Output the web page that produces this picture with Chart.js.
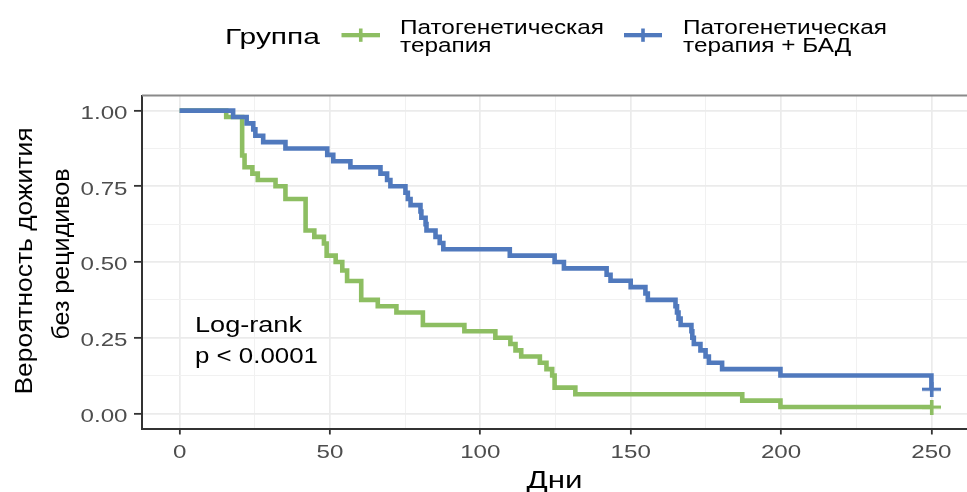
<!DOCTYPE html>
<html lang="ru">
<head>
<meta charset="utf-8">
<title>Кривые Каплана–Мейера</title>
<script src="https://cdn.jsdelivr.net/npm/chart.js@4.4.1/dist/chart.umd.min.js"></script>
<style>
  html, body { margin: 0; padding: 0; background: #ffffff; overflow: hidden; }
  canvas { display: block; }
</style>
</head>
<body>
<canvas id="km" width="969" height="492"></canvas>
<script>
// ---- data -------------------------------------------------------------
const groupTitle = 'Группа';
const groupNames = [
  ['Патогенетическая', 'терапия'],
  ['Патогенетическая', 'терапия + БАД']
];

// Патогенетическая терапия
const greenDays = [0, 15.5, 20.8, 21.6, 24.2, 26.0, 31.9, 35.2, 41.9, 44.8,
  48.0, 48.9, 51.9, 54.1, 55.7, 60.4, 65.9, 72.1, 80.9, 94.7,
  105.0, 110.0, 111.7, 113.6, 119.8, 122.0, 123.9, 124.7, 131.6, 187.1,
  199.8, 250];
const greenSurv = [1, 0.979, 0.852, 0.813, 0.792, 0.771, 0.750, 0.708, 0.604, 0.583,
  0.561, 0.521, 0.500, 0.472, 0.437, 0.375, 0.354, 0.333, 0.292, 0.271,
  0.250, 0.229, 0.208, 0.188, 0.167, 0.146, 0.125, 0.085, 0.063, 0.042,
  0.021, 0.021];

// Патогенетическая терапия + БАД
const blueDays = [0, 17.8, 22.3, 24.5, 25.2, 27.8, 35.2, 49.1, 51.1, 56.8,
  66.8, 69.0, 70.1, 75.1, 75.9, 76.8, 80.1, 80.4, 81.8, 82.1,
  85.1, 86.5, 87.7, 109.8, 124.7, 127.8, 142.0, 143.3, 150.0, 154.9,
  155.7, 164.9, 165.4, 165.9, 166.6, 170.2, 170.5, 171.0, 173.2, 174.9,
  176.0, 180.4, 199.8, 250];
const blueSurv = [1, 0.979, 0.958, 0.938, 0.917, 0.896, 0.875, 0.854, 0.833, 0.813,
  0.792, 0.771, 0.750, 0.729, 0.708, 0.688, 0.667, 0.646, 0.625, 0.604,
  0.583, 0.563, 0.542, 0.521, 0.500, 0.479, 0.458, 0.438, 0.417, 0.396,
  0.375, 0.354, 0.333, 0.313, 0.292, 0.271, 0.250, 0.229, 0.208, 0.188,
  0.167, 0.146, 0.125, 0.080];

const dayTicks = [0, 50, 100, 150, 200, 250];
const dayTickLabels = ['0', '50', '100', '150', '200', '250'];
const dayMinor = [25, 75, 125, 175, 225];
const survTicks = [0, 0.25, 0.5, 0.75, 1];
const survTickLabels = ['0.00', '0.25', '0.50', '0.75', '1.00'];
const survMinor = [0.125, 0.375, 0.625, 0.875];

const xTitle = 'Дни';
const yTitle = ['Вероятность дожития', 'без рецидивов'];
const testText = ['Log-rank', 'p < 0.0001'];

// ---- styling ----------------------------------------------------------
const GREEN = '#8dbe62';
const BLUE = '#5079bd';
const FONT = '"Liberation Sans", Arial, sans-serif';
const TICK_GREY = '#4d4d4d';

// censor mark "+" used at the last observation of each curve
function censorMark(color) {
  const c = document.createElement('canvas');
  c.width = 19; c.height = 15;
  const g = c.getContext('2d');
  g.fillStyle = color;
  g.fillRect(0, 6, 19, 3.2);
  g.fillRect(8, 0, 3.6, 15);
  return c;
}
const plusGreen = censorMark(GREEN);
const plusBlue = censorMark(BLUE);

function toPoints(days, surv) {
  return days.map((d, i) => ({ x: d, y: surv[i] }));
}

const isMajorDay = v => dayTicks.includes(v);
const isMajorSurv = v => survTicks.some(t => Math.abs(t - v) < 1e-9);

// text with a horizontal stretch along the writing direction
function drawText(ctx, text, x, y, o) {
  ctx.save();
  ctx.translate(x, y);
  if (o.rotate) ctx.rotate(o.rotate);
  ctx.font = o.font;
  const w = ctx.measureText(text).width;
  const k = o.width ? o.width / w : (o.stretch || 1);
  ctx.scale(k, 1);
  ctx.fillStyle = o.color || '#000';
  ctx.textAlign = o.align || 'left';
  ctx.textBaseline = 'alphabetic';
  ctx.fillText(text, 0, 0);
  ctx.restore();
  return k;
}

const annotations = {
  id: 'annotations',
  afterDraw(chart) {
    const ctx = chart.ctx;
    const xs = chart.scales.x, ys = chart.scales.y;
    const area = chart.chartArea;

    // panel top edge
    ctx.save();
    ctx.strokeStyle = '#8a8a8a';
    ctx.lineWidth = 2;
    ctx.beginPath();
    ctx.moveTo(area.left, area.top);
    ctx.lineTo(area.right, area.top);
    ctx.stroke();
    ctx.restore();

    // tick labels
    const tickFont = '19px ' + FONT;
    dayTicks.forEach((v, i) => {
      drawText(ctx, dayTickLabels[i], xs.getPixelForValue(v), 457.5,
        { font: tickFont, stretch: 1.27, align: 'center', color: TICK_GREY });
    });
    survTicks.forEach((v, i) => {
      drawText(ctx, survTickLabels[i], 127.5, ys.getPixelForValue(v) + 8.2,
        { font: tickFont, stretch: 1.27, align: 'right', color: TICK_GREY });
    });

    // axis titles
    const titleFont = '22.5px ' + FONT;
    drawText(ctx, xTitle, (area.left + 967) / 2, 487.5,
      { font: '23.5px ' + FONT, width: 56, align: 'center' });
    const k = drawText(ctx, yTitle[0], 31.5, 261, { font: '23px ' + FONT, width: 267, align: 'center', rotate: -Math.PI / 2 });
    drawText(ctx, yTitle[1], 68.5, 254, { font: '23px ' + FONT, stretch: Math.max(k * 0.95, 1), align: 'center', rotate: -Math.PI / 2 });

    // legend
    drawText(ctx, groupTitle, 225, 43.5, { font: titleFont, width: 95 });
    const keys = [
      { color: GREEN, x0: 341.5, x1: 380, textX: 400, names: groupNames[0] },
      { color: BLUE, x0: 624, x1: 662, textX: 683, names: groupNames[1] }
    ];
    const labelFont = '19.3px ' + FONT;
    ctx.save();
    ctx.font = labelFont;
    const legendStretch = 204 / ctx.measureText(groupNames[0][0]).width;
    ctx.restore();
    keys.forEach(key => {
      ctx.save();
      ctx.fillStyle = key.color;
      ctx.fillRect(key.x0, 33, key.x1 - key.x0, 4.3);
      const cx = (key.x0 + key.x1) / 2;
      ctx.fillRect(cx - 1.8, 28.5, 3.6, 13.3);
      ctx.restore();
      drawText(ctx, key.names[0], key.textX, 33.5, { font: labelFont, stretch: legendStretch });
      drawText(ctx, key.names[1], key.textX, 52, { font: labelFont, stretch: legendStretch });
    });

    // log-rank result
    drawText(ctx, testText[0], 195, 332, { font: titleFont, width: 107 });
    drawText(ctx, testText[1], 195, 363, { font: titleFont, width: 123 });
  }
};

function lastOnly(size) {
  return c => (c.dataIndex === c.dataset.data.length - 1 ? size : 0);
}

new Chart(document.getElementById('km'), {
  type: 'line',
  data: {
    datasets: [
      {
        label: groupNames[1].join(' '),
        data: toPoints(blueDays, blueSurv),
        borderColor: BLUE,
        backgroundColor: BLUE,
        borderWidth: 4.6,
        stepped: true,
        fill: false,
        pointRadius: lastOnly(6),
        pointHoverRadius: 0,
        pointStyle: plusBlue,
        borderCapStyle: 'butt',
        borderJoinStyle: 'miter'
      },
      {
        label: groupNames[0].join(' '),
        data: toPoints(greenDays, greenSurv),
        borderColor: GREEN,
        backgroundColor: GREEN,
        borderWidth: 4.6,
        stepped: true,
        fill: false,
        pointRadius: lastOnly(6),
        pointHoverRadius: 0,
        pointStyle: plusGreen,
        borderCapStyle: 'butt',
        borderJoinStyle: 'miter'
      }
    ]
  },
  options: {
    responsive: false,
    animation: false,
    devicePixelRatio: 1,
    clip: false,
    layout: { autoPadding: false, padding: { top: 95.5, right: 0, bottom: 0, left: 0 } },
    plugins: {
      legend: { display: false },
      tooltip: { enabled: false },
      title: { display: false }
    },
    events: [],
    scales: {
      x: {
        type: 'linear',
        min: -12.5,
        max: 262.5,
        afterBuildTicks: s => {
          s.ticks = dayTicks.concat(dayMinor).sort((a, b) => a - b).map(v => ({ value: v }));
        },
        afterFit: s => { s.height = 63.5; },
        ticks: { display: false },
        grid: {
          color: c => (isMajorDay(c.tick.value) ? '#ebebeb' : '#f1f1f1'),
          lineWidth: c => (isMajorDay(c.tick.value) ? 1.7 : 1),
          drawTicks: true,
          tickLength: 6,
          tickWidth: 1.8,
          tickColor: c => (isMajorDay(c.tick.value) ? '#333333' : 'rgba(0,0,0,0)')
        },
        border: { display: true, color: '#333333', width: 2 }
      },
      y: {
        type: 'linear',
        min: -0.05,
        max: 1.05,
        afterBuildTicks: s => {
          s.ticks = survTicks.concat(survMinor).sort((a, b) => a - b).map(v => ({ value: v }));
        },
        afterFit: s => { s.width = 142; },
        ticks: { display: false },
        grid: {
          color: c => (isMajorSurv(c.tick.value) ? '#ebebeb' : '#f1f1f1'),
          lineWidth: c => (isMajorSurv(c.tick.value) ? 1.7 : 1),
          drawTicks: true,
          tickLength: 8,
          tickWidth: 1.8,
          tickColor: c => (isMajorSurv(c.tick.value) ? '#333333' : 'rgba(0,0,0,0)')
        },
        border: { display: true, color: '#333333', width: 2 }
      }
    }
  },
  plugins: [annotations]
});
</script>
</body>
</html>
